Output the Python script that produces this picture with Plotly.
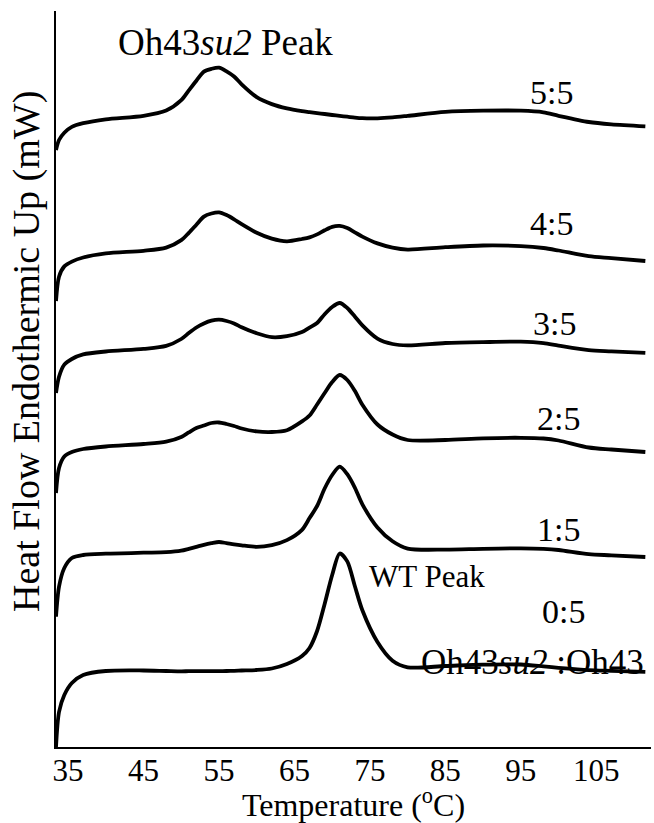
import plotly.graph_objects as go

# Temperature grid (deg C) shared by all scans
temperature = [33.4, 33.8, 34.5, 35.5, 37, 40, 45, 48, 50, 51, 52, 53, 54, 55, 56, 57, 58, 60, 62, 64, 66, 67,
               68, 69, 70, 71, 72, 73, 74, 76, 78, 80, 85, 90, 95, 98, 100, 104, 107, 111.5]

# Heat flow (arbitrary units, curves stacked with offsets as in the figure)
hf_5_5 = [597, 607, 614.3, 620.1, 623.8, 627.7, 631.1, 636.4, 646.8, 656.6, 666.3, 675.4, 678.2, 679.4, 675.7,
          670.5, 662.7, 649.9, 642.9, 638.6, 635.9, 634.9, 633.9, 633, 632, 631.1, 630.3, 629.4, 628.8, 628.7,
          629.6, 631.1, 635.1, 636.3, 636.3, 634.7, 631.2, 625, 622.7, 620.7]
hf_4_5 = [446, 470.3, 480.6, 485.4, 489.5, 493.6, 496.2, 499.4, 506.9, 514.2, 522.3, 530.4, 533.5, 534.6, 531.9,
          527.7, 522.9, 514.3, 508.4, 505.7, 508, 509.6, 512.6, 516.7, 520.2, 521.1, 518.9, 514.7, 510.4, 503.6,
          499.4, 497.4, 499.8, 501.5, 500.9, 499, 496.5, 490.8, 488.9, 486]
hf_3_5 = [354, 370.3, 382.4, 388, 392.6, 395.5, 398.1, 401.1, 408, 414, 419.5, 423.5, 426.3, 427.3, 426,
          423.6, 419.7, 413.7, 409.8, 410.8, 414.9, 419.4, 424, 432.8, 440, 444, 439, 430.5, 421.6, 408.4,
          403, 401.6, 404, 404.9, 405.3, 403.9, 401.4, 396.9, 395.7, 394.1]
hf_2_5 = [254, 279, 290.5, 295, 298, 300.5, 303, 305.3, 310, 314.6, 319, 321.5, 324, 324.5, 323, 321, 318.5,
          315.6, 315, 316.8, 325.6, 331.5, 342.5, 354, 365, 372, 367, 356.2, 342.3, 322.5, 312.5, 307, 307,
          308.7, 309.2, 308.5, 306.5, 299.5, 297.5, 295]
hf_1_5 = [130.3, 160.3, 179, 189, 192, 193.3, 194.3, 194.8, 196.3, 198.2, 200.2, 202.2, 203.8, 205, 203.9,
          202.7, 201.7, 200.1, 201.9, 206.9, 217.2, 228.9, 241, 258.5, 272, 280.3, 272.8, 259.4, 242.7, 219.5,
          205.7, 198.4, 197.4, 198.2, 198.6, 198.1, 197, 192.8, 191.7, 190]
hf_0_5 = [0, 35, 52, 64, 72, 76, 76.5, 76, 75.7, 75.8, 75.8, 75.8, 75.8, 75.8, 76, 76.2, 76.5, 77, 78.5, 83,
          91, 99, 116, 143, 172, 193.5, 185.6, 161, 136.7, 105, 86.3, 79.7, 81, 82.4, 82.5, 80.6, 79.2,
          76.9, 76.2, 75.2]

series_names = ["5:5", "4:5", "3:5", "2:5", "1:5", "0:5"]
series_values = [hf_5_5, hf_4_5, hf_3_5, hf_2_5, hf_1_5, hf_0_5]

tick_values = [35, 45, 55, 65, 75, 85, 95, 105]

# Ratio labels next to the curves
label_text = ["5:5", "4:5", "3:5", "2:5", "1:5", "0:5"]
label_x = [99.1, 99.1, 99.5, 100.0, 100.0, 100.7]
label_y = [655, 524, 424, 329, 218, 135.5]

SERIF = "Liberation Serif, Times New Roman, serif"

fig = go.Figure()
for name, vals in zip(series_names, series_values):
    fig.add_trace(go.Scatter(
        x=temperature, y=vals, mode="lines", name=name,
        line=dict(color="black", width=3.8, shape="spline", smoothing=0.8),
        showlegend=False, hoverinfo="x+y+name",
    ))

annotations = []
for t, x, y in zip(label_text, label_x, label_y):
    annotations.append(dict(x=x, y=y, xref="x", yref="y", text=t, showarrow=False,
                            xanchor="center", yanchor="middle",
                            font=dict(family=SERIF, size=34, color="black")))
annotations.append(dict(x=55.8, y=705, xref="x", yref="y", text="Oh43<i>su2</i> Peak",
                        showarrow=False, xanchor="center", yanchor="middle",
                        font=dict(family=SERIF, size=37, color="black")))
annotations.append(dict(x=82.5, y=171, xref="x", yref="y", text="WT Peak",
                        showarrow=False, xanchor="center", yanchor="middle",
                        font=dict(family=SERIF, size=31, color="black")))
annotations.append(dict(x=111.6, y=85, xref="x", yref="y", text="Oh43<i>su2</i> :Oh43",
                        showarrow=False, xanchor="right", yanchor="middle",
                        font=dict(family=SERIF, size=35, color="black")))
annotations.append(dict(x=0, y=(747 - 352) / 736, xref="paper", yref="paper",
                        text="Heat Flow Endothermic Up (mW)", textangle=-90,
                        showarrow=False, xanchor="center", yanchor="middle", xshift=-30,
                        font=dict(family=SERIF, size=38, color="black")))

fig.update_layout(
    width=654, height=823,
    margin=dict(l=56, r=3, t=11, b=76),
    paper_bgcolor="white", plot_bgcolor="white",
    font=dict(family=SERIF, color="black"),
    annotations=annotations,
    xaxis=dict(range=[33.4, 112.25], tickvals=tick_values, ticks="", ticklen=0, showgrid=False,
               zeroline=False, showline=True, linecolor="black", linewidth=2,
               ticklabelstandoff=-5,
               tickfont=dict(family=SERIF, size=31, color="black"),
               title=dict(text="Temperature (<sup>o</sup>C)", standoff=4,
                          font=dict(family=SERIF, size=32, color="black"))),
    yaxis=dict(range=[0, 736], showticklabels=False, ticks="", showgrid=False,
               zeroline=False, showline=True, linecolor="black", linewidth=2),
)

fig.write_html("out.html", config={"displayModeBar": False},
               post_script="document.body.style.margin='0px';document.body.style.overflow='hidden';")
